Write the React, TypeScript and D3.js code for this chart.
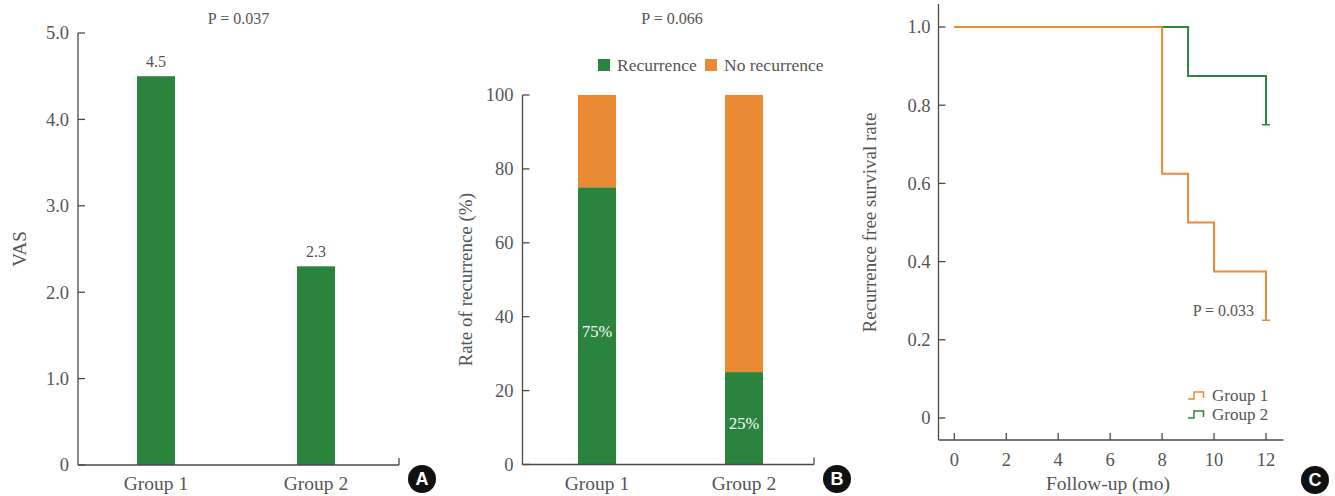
import React from "react";
import * as d3 from "d3";

const groups = ["Group 1", "Group 2"];
const vasValues = [4.5, 2.3];
const vasTicks = [0, 1, 2, 3, 4, 5];
const recurrence = [75, 25];
const noRecurrence = [25, 75];
const rateTicks = [0, 20, 40, 60, 80, 100];
const seriesNames = ["Recurrence", "No recurrence"];
const km1Time = [0, 8, 9, 10, 12];
const km1Surv = [1, 0.625, 0.5, 0.375, 0.25];
const km2Time = [0, 9, 12];
const km2Surv = [1, 0.875, 0.75];
const kmEnd = 12;
const kmXTicks = [0, 2, 4, 6, 8, 10, 12];
const kmYTicks = [0, 0.2, 0.4, 0.6, 0.8, 1.0];
const kmGroups = ["Group 1", "Group 2"];

const GREEN = "#2a843e";
const ORANGE = "#eb8a35";
const TEXT = "#555";
const AXIS = "#4a4a4a";
const FONT = "'Liberation Serif', 'Times New Roman', serif";

function stepPath(times: number[], surv: number[], end: number, x: any, y: any) {
  const pts: [number, number][] = [];
  for (let i = 0; i < times.length; i++) {
    if (i > 0) pts.push([times[i], surv[i - 1]]);
    pts.push([times[i], surv[i]]);
  }
  const last = pts[pts.length - 1];
  if (last[0] < end) pts.push([end, last[1]]);
  return d3.line<[number, number]>().x((d) => x(d[0])).y((d) => y(d[1]))(pts) || "";
}

function Badge({ cx, cy, label }: { cx: number; cy: number; label: string }) {
  return (
    <g>
      <circle cx={cx} cy={cy} r={14} fill="#111" />
      <text x={cx} y={cy} dy="0.36em" textAnchor="middle" fill="#fff" fontFamily="'Liberation Sans', Arial, sans-serif" fontWeight="bold" fontSize={18}>
        {label}
      </text>
    </g>
  );
}

export default function App() {
  // Panel A
  const yA = d3.scaleLinear().domain([0, 5]).range([465, 33]);
  const xA = d3.scalePoint<string>().domain(groups).range([156, 316]);
  const axA = { x0: 78, x1: 399 };
  // Panel B
  const yB = d3.scaleLinear().domain([0, 100]).range([464.5, 95]);
  const xB = d3.scalePoint<string>().domain(groups).range([597, 744]);
  const axB = { x0: 522.5, x1: 814 };
  const bw = 38;
  // Panel C
  const xC = d3.scaleLinear().domain([0, 12]).range([954.3, 1266]);
  const yC = d3.scaleLinear().domain([0, 1]).range([418, 27]);
  const cX0 = 938.5, cX1 = 1283.5, cY0 = 440, cYTop = 4;

  return (
    <svg width={1335} height={496} style={{ position: "absolute", left: 0, top: 0 }} fontFamily={FONT}>
      <rect width={1335} height={496} fill="#fff" />
      {/* ===== Panel A ===== */}
      <g>
        <text x={(axA.x0 + axA.x1) / 2} y={24} textAnchor="middle" fill={TEXT} fontSize={16}>P = 0.037</text>
        {groups.map((g, i) => (
          <g key={g}>
            <rect x={xA(g)! - bw / 2} y={yA(vasValues[i])} width={bw} height={yA(0) - yA(vasValues[i])} fill={GREEN} />
            <text x={xA(g)!} y={yA(vasValues[i]) - 9} textAnchor="middle" fill={TEXT} fontSize={16}>{vasValues[i].toFixed(1)}</text>
            <text x={xA(g)!} y={490} textAnchor="middle" fill={TEXT} fontSize={19.5}>{g}</text>
          </g>
        ))}
        <line x1={axA.x0} x2={axA.x0} y1={yA(5)} y2={yA(0)} stroke={AXIS} strokeWidth={1.3} />
        <line x1={axA.x0} x2={axA.x1} y1={yA(0)} y2={yA(0)} stroke={AXIS} strokeWidth={1.3} />
        <line x1={axA.x1} x2={axA.x1} y1={yA(0)} y2={yA(0) - 7} stroke={AXIS} strokeWidth={1.3} />
        {vasTicks.map((t) => (
          <g key={t}>
            <line x1={axA.x0} x2={axA.x0 + 7} y1={yA(t)} y2={yA(t)} stroke={AXIS} strokeWidth={1.3} />
            <text x={axA.x0 - 9} y={yA(t)} dy="0.35em" textAnchor="end" fill={TEXT} fontSize={18.5}>{t === 0 ? "0" : t.toFixed(1)}</text>
          </g>
        ))}
        <text transform={`translate(26,${(yA(0) + yA(5)) / 2}) rotate(-90)`} textAnchor="middle" fill={TEXT} fontSize={19}>VAS</text>
        <Badge cx={422} cy={479} label="A" />
      </g>

      {/* ===== Panel B ===== */}
      <g>
        <text x={672} y={24} textAnchor="middle" fill={TEXT} fontSize={16}>P = 0.066</text>
        {[GREEN, ORANGE].map((c, i) => {
          const lx = i === 0 ? 598 : 705;
          return (
            <g key={c}>
              <rect x={lx} y={59} width={12} height={12} fill={c} />
              <text x={lx + 19} y={71} fill={TEXT} fontSize={17.5}>{seriesNames[i]}</text>
            </g>
          );
        })}
        {groups.map((g, i) => {
          const cx = xB(g)!;
          return (
            <g key={g}>
              <rect x={cx - bw / 2} y={yB(recurrence[i] + noRecurrence[i])} width={bw} height={yB(recurrence[i]) - yB(recurrence[i] + noRecurrence[i])} fill={ORANGE} />
              <rect x={cx - bw / 2} y={yB(recurrence[i])} width={bw} height={yB(0) - yB(recurrence[i])} fill={GREEN} />
              <text x={cx} y={yB(recurrence[i] / 2) + 11} textAnchor="middle" fill="#fff" fontSize={16.5}>{recurrence[i]}%</text>
              <text x={cx} y={490} textAnchor="middle" fill={TEXT} fontSize={19.5}>{g}</text>
            </g>
          );
        })}
        <line x1={axB.x0} x2={axB.x0} y1={yB(100)} y2={yB(0)} stroke={AXIS} strokeWidth={1.3} />
        <line x1={axB.x0} x2={axB.x1} y1={yB(0)} y2={yB(0)} stroke={AXIS} strokeWidth={1.3} />
        <line x1={axB.x1} x2={axB.x1} y1={yB(0)} y2={yB(0) - 7} stroke={AXIS} strokeWidth={1.3} />
        {rateTicks.map((t) => (
          <g key={t}>
            <line x1={axB.x0} x2={axB.x0 + 7} y1={yB(t)} y2={yB(t)} stroke={AXIS} strokeWidth={1.3} />
            <text x={axB.x0 - 9} y={yB(t)} dy="0.35em" textAnchor="end" fill={TEXT} fontSize={18.5}>{t}</text>
          </g>
        ))}
        <text transform={`translate(472,${(yB(0) + yB(100)) / 2}) rotate(-90)`} textAnchor="middle" fill={TEXT} fontSize={19}>Rate of recurrence (%)</text>
        <Badge cx={837} cy={479} label="B" />
      </g>

      {/* ===== Panel C ===== */}
      <g>
        <path d={stepPath(km2Time, km2Surv, kmEnd, xC, yC)} fill="none" stroke={GREEN} strokeWidth={2} />
        <path d={stepPath(km1Time, km1Surv, kmEnd, xC, yC)} fill="none" stroke={ORANGE} strokeWidth={2} />
        <line x1={xC(kmEnd) - 4} x2={xC(kmEnd) + 4} y1={yC(km2Surv[km2Surv.length - 1])} y2={yC(km2Surv[km2Surv.length - 1])} stroke={GREEN} strokeWidth={1.5} />
        <line x1={xC(kmEnd) - 4} x2={xC(kmEnd) + 4} y1={yC(km1Surv[km1Surv.length - 1])} y2={yC(km1Surv[km1Surv.length - 1])} stroke={ORANGE} strokeWidth={1.5} />
        <line x1={cX0} x2={cX0} y1={cYTop} y2={cY0} stroke={AXIS} strokeWidth={1.3} />
        <line x1={cX0} x2={cX1} y1={cY0} y2={cY0} stroke={AXIS} strokeWidth={1.3} />
        {kmYTicks.map((t) => (
          <g key={t}>
            <line x1={cX0} x2={cX0 + 7} y1={yC(t)} y2={yC(t)} stroke={AXIS} strokeWidth={1.3} />
            <text x={cX0 - 8} y={yC(t)} dy="0.35em" textAnchor="end" fill={TEXT} fontSize={18.5}>{t === 0 ? "0" : t.toFixed(1)}</text>
          </g>
        ))}
        {kmXTicks.map((t) => (
          <g key={t}>
            <line x1={xC(t)} x2={xC(t)} y1={cY0} y2={cY0 - 7} stroke={AXIS} strokeWidth={1.3} />
            <text x={xC(t)} y={466} textAnchor="middle" fill={TEXT} fontSize={18.5}>{t}</text>
          </g>
        ))}
        <text x={(cX0 + cX1) / 2 - 3} y={490} textAnchor="middle" fill={TEXT} fontSize={19.5}>Follow-up (mo)</text>
        <text transform={`translate(876,${(yC(0) + yC(1)) / 2}) rotate(-90)`} textAnchor="middle" fill={TEXT} fontSize={19}>Recurrence free survival rate</text>
        <text x={1254} y={316} textAnchor="end" fill={TEXT} fontSize={16}>P = 0.033</text>
        {kmGroups.map((g, i) => {
          const c = i === 0 ? ORANGE : GREEN;
          const ly = i === 0 ? 392 : 411;
          return (
            <g key={g}>
              <path d={`M1188,${ly + 7}H1194V${ly}H1203.5V${ly + 6}`} fill="none" stroke={c} strokeWidth={1.5} />
              <text x={1212} y={ly + 9} fill={TEXT} fontSize={17}>{g}</text>
            </g>
          );
        })}
        <Badge cx={1315} cy={480} label="C" />
      </g>
    </svg>
  );
}
